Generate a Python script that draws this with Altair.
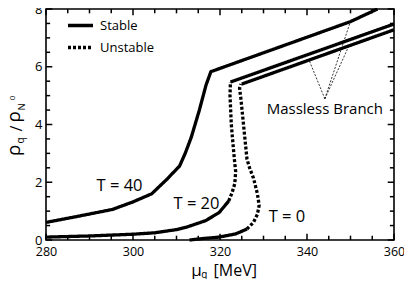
import altair as alt
import pandas as pd

# ---------------- data ----------------
# T = 40 (stable all the way)
t40_mu = [280, 288, 295.3, 300, 304.3, 307.7, 310.7, 312.0, 313.4, 315.2, 316.8, 317.9, 349.95, 356.2]
t40_rho = [0.61, 0.84, 1.06, 1.32, 1.60, 2.09, 2.56, 3.00, 3.56, 4.47, 5.37, 5.83, 7.56, 8.0]

# T = 20
t20_low_mu = [280, 290, 300, 305, 310, 312.2, 316.7, 319.8, 322.0]
t20_low_rho = [0.10, 0.14, 0.20, 0.25, 0.36, 0.44, 0.67, 0.95, 1.35]
t20_uns_mu = [322.0, 322.8, 323.4, 323.6, 323.3, 323.0, 322.6, 322.3, 322.4]
t20_uns_rho = [1.35, 1.65, 1.95, 2.37, 2.80, 3.30, 4.00, 5.00, 5.47]
t20_ml_mu = [322.4, 360]
t20_ml_rho = [5.47, 7.48]

# T = 0
t0_low_mu = [313.0, 316.0, 319.8, 323.6, 326.2]
t0_low_rho = [0.0, 0.05, 0.10, 0.21, 0.38]
t0_uns_mu = [326.2, 327.7, 328.6, 329.0, 328.6, 327.7, 326.8, 326.2, 325.4, 324.8, 324.5, 324.8]
t0_uns_rho = [0.38, 0.61, 0.89, 1.20, 1.60, 2.14, 2.50, 2.80, 4.00, 4.90, 5.26, 5.40]
t0_ml_mu = [325.0, 360]
t0_ml_rho = [5.40, 7.28]

# "Massless Branch" pointer lines (apex -> point on curve)
ptr_apex = (344.1, 4.89)
ptr_end_mu = [340.56, 349.60, 349.99]
ptr_end_rho = [6.20, 6.71, 7.57]

# curve labels
lbl_text = ["T = 40", "T = 20", "T = 0", "Massless Branch"]
lbl_mu = [296.9, 314.6, 335.4, 344.1]
lbl_rho = [1.88, 1.23, 0.79, 4.55]
lbl_size = [16.5, 16.5, 16.5, 15]

# axis title pieces (y: rho_q / rho_N^0, x: mu_q [MeV])
ytitle_text = ["ρ", "q", "/", "ρ", "N", "0"]
ytitle_mu = [274.0, 274.94, 274.48, 274.0, 275.24, 272.8]
ytitle_rho = [3.11, 3.45, 3.86, 4.27, 4.61, 4.92]
ytitle_size = [19, 10, 16, 19, 9, 8]

xtitle_text = ["μ", "q", "[MeV]"]
xtitle_mu = [314.6, 316.4, 323.5]
xtitle_rho = [-1.23, -1.30, -1.25]
xtitle_size = [17, 10, 16]

# axis ticks (major labelled, minor unlabelled); tick lengths in data units
x_major = [280, 300, 320, 340, 360]
x_minor = [285, 290, 295, 305, 310, 315, 325, 330, 335, 345, 350, 355]
y_major = [0, 2, 4, 6, 8]
y_minor = [0.5, 1.0, 1.5, 2.5, 3.0, 3.5, 4.5, 5.0, 5.5, 6.5, 7.0, 7.5]
tick_len_x = {"major": 0.22, "minor": 0.15}   # rho units (vertical ticks)
tick_len_y = {"major": 1.45, "minor": 0.95}   # MeV units (horizontal ticks)

# ---------------- tables ----------------
segments = [
    ("T40", "Stable", t40_mu, t40_rho),
    ("T20a", "Stable", t20_low_mu, t20_low_rho),
    ("T20b", "Unstable", t20_uns_mu, t20_uns_rho),
    ("T20c", "Stable", t20_ml_mu, t20_ml_rho),
    ("T0a", "Stable", t0_low_mu, t0_low_rho),
    ("T0b", "Unstable", t0_uns_mu, t0_uns_rho),
    ("T0c", "Stable", t0_ml_mu, t0_ml_rho),
]
rows = []
for seg, stab, mus, rhos in segments:
    for i, (m, r) in enumerate(zip(mus, rhos)):
        rows.append({"seg": seg, "stab": stab, "i": i, "mu": m, "rho": r})
curves = pd.DataFrame(rows)

prow = []
for k, (m, r) in enumerate(zip(ptr_end_mu, ptr_end_rho)):
    prow.append({"k": k, "i": 0, "mu": ptr_apex[0], "rho": ptr_apex[1]})
    prow.append({"k": k, "i": 1, "mu": m, "rho": r})
pointers = pd.DataFrame(prow)

labels = pd.DataFrame({"t": lbl_text, "mu": lbl_mu, "rho": lbl_rho, "s": lbl_size})
ytitle = pd.DataFrame({"t": ytitle_text, "mu": ytitle_mu, "rho": ytitle_rho, "s": ytitle_size})
xtitle = pd.DataFrame({"t": xtitle_text, "mu": xtitle_mu, "rho": xtitle_rho, "s": xtitle_size})

tk = []
for kind, vals in (("major", x_major), ("minor", x_minor)):
    L = tick_len_x[kind]
    for v in vals:
        tk.append({"mu": float(v), "r1": 0.0, "r2": L})
        tk.append({"mu": float(v), "r1": 8.0, "r2": 8.0 - L})
vticks = pd.DataFrame(tk)
hk = []
for kind, vals in (("major", y_major), ("minor", y_minor)):
    L = tick_len_y[kind]
    for v in vals:
        hk.append({"rho": float(v), "m1": 280.0, "m2": 280.0 + L})
        hk.append({"rho": float(v), "m1": 360.0, "m2": 360.0 - L})
hticks = pd.DataFrame(hk)

FONT = "Open Sans"
XS = alt.Scale(domain=[280, 360], nice=False, zero=False)
YS = alt.Scale(domain=[0, 8], nice=False, zero=False)

x_axis = alt.Axis(values=x_major, ticks=False, domain=False, grid=False, title=None,
                  labelFont=FONT, labelFontSize=12.5, labelColor="black", labelPadding=5,
                  labelFlush=False, labelOverlap=False)
y_axis = alt.Axis(values=y_major, ticks=False, domain=False, grid=False, title=None,
                  labelFont=FONT, labelFontSize=13, labelColor="black", labelPadding=4,
                  labelFlush=False, labelOverlap=False)

lines = alt.Chart(curves).mark_line(color="black", strokeWidth=3.3, strokeCap="butt",
                                    strokeJoin="round").encode(
    x=alt.X("mu:Q", scale=XS, axis=x_axis),
    y=alt.Y("rho:Q", scale=YS, axis=y_axis),
    detail="seg:N",
    order="i:Q",
    strokeDash=alt.StrokeDash(
        "stab:N",
        scale=alt.Scale(domain=["Stable", "Unstable"], range=[[1, 0], [3, 2]]),
        legend=alt.Legend(title=None, orient="none", legendX=20, legendY=2,
                          symbolType="stroke", symbolStrokeWidth=3.5, symbolSize=625,
                          symbolStrokeColor="black", labelFont=FONT, labelFontSize=13,
                          labelColor="black", labelOffset=5, rowPadding=-11, padding=0),
    ),
)

vt_layer = alt.Chart(vticks).mark_rule(color="black", strokeWidth=1.5).encode(
    x=alt.X("mu:Q", scale=XS),
    y=alt.Y("r1:Q", scale=YS),
    y2=alt.Y2("r2:Q"),
)
ht_layer = alt.Chart(hticks).mark_rule(color="black", strokeWidth=1.5).encode(
    y=alt.Y("rho:Q", scale=YS),
    x=alt.X("m1:Q", scale=XS),
    x2=alt.X2("m2:Q"),
)

ptr = alt.Chart(pointers).mark_line(color="black", strokeWidth=0.8,
                                    strokeDash=[2, 1.5]).encode(
    x=alt.X("mu:Q", scale=XS),
    y=alt.Y("rho:Q", scale=YS),
    detail="k:N",
    order="i:Q",
)

ann = alt.Chart(labels).mark_text(font=FONT, color="black", align="center",
                                  baseline="middle").encode(
    x=alt.X("mu:Q", scale=XS),
    y=alt.Y("rho:Q", scale=YS),
    text="t:N",
    size=alt.Size("s:Q", scale=None, legend=None),
)

yt = alt.Chart(ytitle).mark_text(font=FONT, color="black", align="center",
                                 baseline="alphabetic", angle=270).encode(
    x=alt.X("mu:Q", scale=XS),
    y=alt.Y("rho:Q", scale=YS),
    text="t:N",
    size=alt.Size("s:Q", scale=None, legend=None),
)

xt = alt.Chart(xtitle).mark_text(font=FONT, color="black", align="center",
                                 baseline="alphabetic").encode(
    x=alt.X("mu:Q", scale=XS),
    y=alt.Y("rho:Q", scale=YS),
    text="t:N",
    size=alt.Size("s:Q", scale=None, legend=None),
)

chart = alt.layer(lines, ptr, ann, yt, xt, vt_layer, ht_layer).properties(
    width=348, height=231,
    autosize=alt.AutoSizeParams(type="none"),
    padding={"left": 38, "top": 1, "right": 10, "bottom": 39},
).configure_view(stroke="black", strokeWidth=1.6)

chart.save("out.html", embed_options={"renderer": "svg", "actions": False})
